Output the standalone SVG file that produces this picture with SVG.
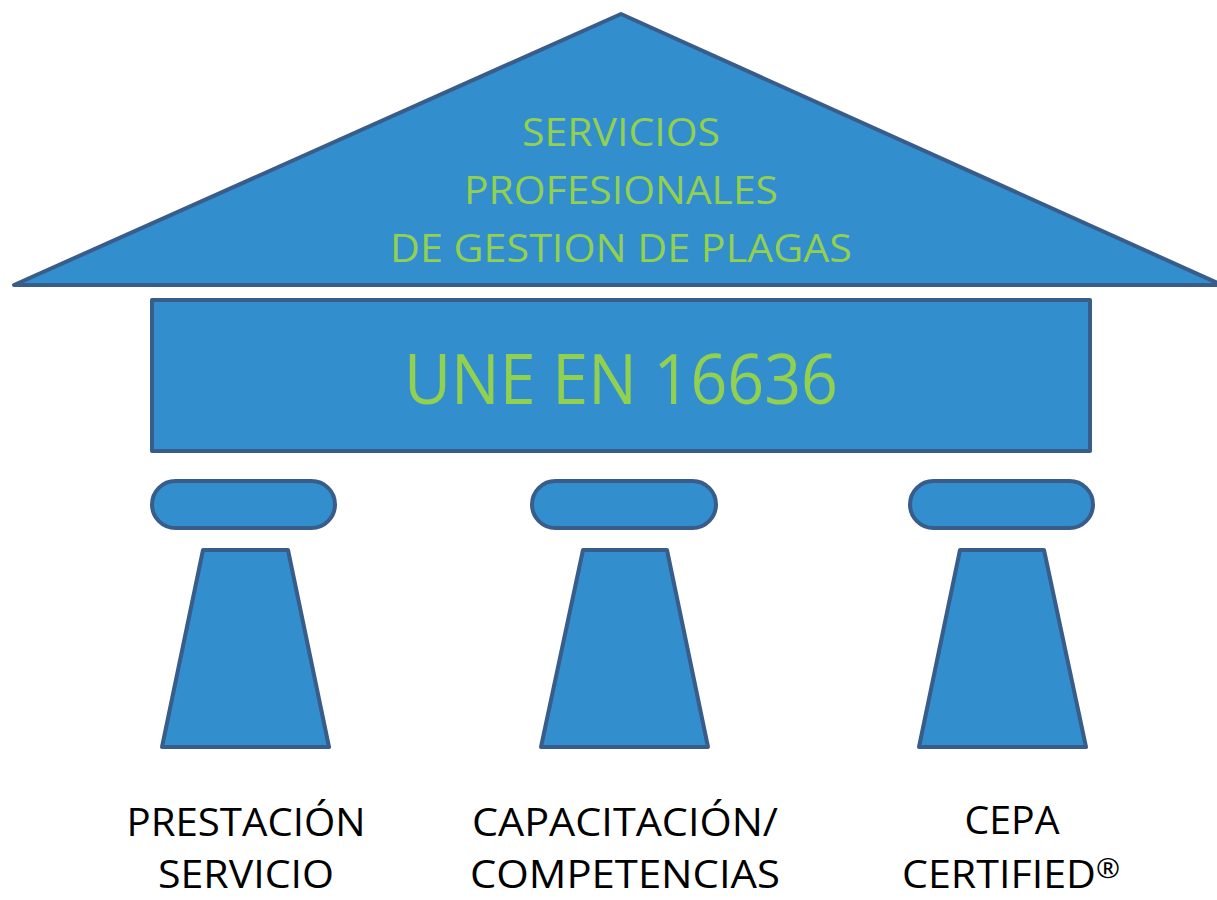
<svg xmlns="http://www.w3.org/2000/svg" width="1217" height="900" viewBox="0 0 1217 900">
<style>
.s{fill:#338ECE;stroke:#385D8A;stroke-width:4;stroke-linejoin:round}
.g{fill:#92D050;font-family:"Open Sans","Liberation Sans",sans-serif;text-anchor:middle}
.b{fill:#000;font-family:"Open Sans","Liberation Sans",sans-serif;text-anchor:middle;font-size:38.5px}
</style>
<rect width="1217" height="900" fill="#fff"/>
<g id="roof">
<polygon class="s" points="621,14 14,285 1222,285"/>
<text class="g" x="621" y="146" font-size="38" textLength="198" lengthAdjust="spacingAndGlyphs">SERVICIOS</text>
<text class="g" x="621" y="204" font-size="38" textLength="314" lengthAdjust="spacingAndGlyphs">PROFESIONALES</text>
<text class="g" x="621" y="262" font-size="38" textLength="462" lengthAdjust="spacingAndGlyphs">DE GESTION DE PLAGAS</text>
</g>
<g id="entablature">
<rect class="s" x="152" y="300" width="938" height="151"/>
<text class="g" x="621" y="404" font-size="70" textLength="434" lengthAdjust="spacingAndGlyphs">UNE EN 16636</text>
</g>
<g id="pillar1">
<rect class="s" x="152" y="481" width="183" height="47" rx="23.5"/>
<polygon class="s" points="203,550 288,550 329,747 162,747"/>
<text class="b" x="246" y="836" textLength="239" lengthAdjust="spacingAndGlyphs">PRESTACIÓN</text>
<text class="b" x="246" y="888" textLength="176" lengthAdjust="spacingAndGlyphs">SERVICIO</text>
</g>
<g id="pillar2">
<rect class="s" x="532" y="481" width="184" height="47" rx="23.5"/>
<polygon class="s" points="583,550 667,550 708,747 541,747"/>
<text class="b" x="625" y="836" textLength="306" lengthAdjust="spacingAndGlyphs">CAPACITACIÓN/</text>
<text class="b" x="625" y="888" textLength="310" lengthAdjust="spacingAndGlyphs">COMPETENCIAS</text>
</g>
<g id="pillar3">
<rect class="s" x="910" y="481" width="183" height="47" rx="23.5"/>
<polygon class="s" points="960,550 1044,550 1086,747 919,747"/>
<text class="b" x="1012" y="834" textLength="95" lengthAdjust="spacingAndGlyphs">CEPA</text>
<text class="b" x="1011" y="888" textLength="218" lengthAdjust="spacingAndGlyphs">CERTIFIED<tspan font-size="27" dy="-10">®</tspan></text>
</g>
<g id="connectors"/>
</svg>
